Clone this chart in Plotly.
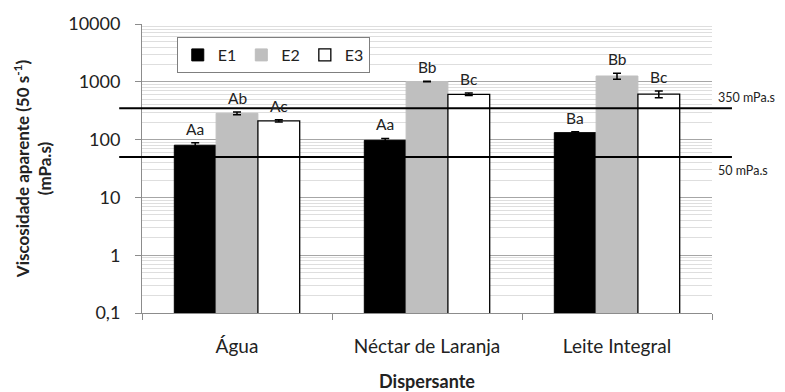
import math
import plotly.graph_objects as go

categories = ["Água", "Néctar de Laranja", "Leite Integral"]
series_names = ["E1", "E2", "E3"]
e1_values = [80, 97, 132]
e2_values = [285, 1010, 1260]
e3_values = [211, 608, 610]
e1_errors = [8, 8, 5]
e2_errors = [15, 10, 150]
e3_errors = [10, 30, 80]
e1_labels = ["Aa", "Aa", "Ba"]
e2_labels = ["Ab", "Bb", "Bb"]
e3_labels = ["Ac", "Bc", "Bc"]
ref_values = [350, 50]
ref_labels = ["350 mPa.s", "50 mPa.s"]
ytick_vals = [0.1, 1, 10, 100, 1000, 10000]
ytick_text = ["0,1", "1", "10", "100", "1000", "10000"]

FONT = "Lato, 'Open Sans', sans-serif"
styles = [
    dict(color="#000000", line=dict(color="#000000", width=1)),
    dict(color="#bfbfbf", line=dict(color="#bfbfbf", width=1)),
    dict(color="#ffffff", line=dict(color="#000000", width=1.3)),
]
values = [e1_values, e2_values, e3_values]
errors = [e1_errors, e2_errors, e3_errors]
labels = [e1_labels, e2_labels, e3_labels]

fig = go.Figure()
for name, v, e, st in zip(series_names, values, errors, styles):
    fig.add_trace(go.Bar(
        x=categories, y=v, name=name, marker=st,
        error_y=dict(type="data", array=e, visible=True, color="#000000",
                     thickness=1.5, width=4),
    ))

# letters above bars
shifts = [-42, 0, 42]
for v, e, lab, sh in zip(values, errors, labels, shifts):
    for c, vv, ee, ll in zip(categories, v, e, lab):
        fig.add_annotation(x=c, y=math.log10(vv + ee), text=ll, showarrow=False,
                           xshift=sh, yanchor="bottom", yshift=3,
                           font=dict(size=15.5, color="#222", family=FONT))

# reference lines
for rv, rl in zip(ref_values, ref_labels):
    fig.add_shape(type="line", xref="paper", yref="y", x0=-0.04, x1=1.035,
                  y0=rv, y1=rv, line=dict(color="#000000", width=2))
    fig.add_annotation(xref="paper", yref="y", x=1.007, y=math.log10(rv),
                       text=rl, showarrow=False, xanchor="left",
                       yshift=11 if rv == 350 else -13,
                       font=dict(size=12.5, color="#222", family=FONT))

minor_vals = [k * 10 ** p for p in range(-1, 4) for k in range(2, 10)]

# page body has an 8px margin: compensate so the plot area lands where the reference has it
fig.update_layout(
    width=777, height=384,
    margin=dict(l=134, r=73, t=16, b=79),
    paper_bgcolor="white", plot_bgcolor="white",
    barmode="group", bargap=0.34, bargroupgap=0,
    font=dict(family=FONT, size=15, color="#222"),
    showlegend=True,
    legend=dict(orientation="h", x=0.061, y=0.955, xanchor="left", yanchor="top",
                bordercolor="#7f7f7f", borderwidth=1, bgcolor="white",
                font=dict(size=16, family=FONT), itemwidth=30, traceorder="normal",
                tracegroupgap=0),
    xaxis=dict(
        automargin=False,
        showline=True, linecolor="#8c8c8c", linewidth=1,
        ticks="outside", tickson="boundaries", ticklen=6, tickcolor="#8c8c8c",
        ticklabelstandoff=16,
        tickfont=dict(size=19, family=FONT),
        title=dict(text="<b>Dispersante</b>", font=dict(size=18, family=FONT), standoff=31),
    ),
    yaxis=dict(
        automargin=False,
        type="log", range=[-1, 4],
        tickvals=ytick_vals, ticktext=ytick_text,
        showline=True, linecolor="#8c8c8c", linewidth=1,
        ticks="outside", ticklen=6, tickcolor="#8c8c8c",
        ticklabelstandoff=11,
        showgrid=True, gridcolor="#a6a6a6", gridwidth=1,
        minor=dict(tickvals=minor_vals, showgrid=True, gridcolor="#dedede", gridwidth=1, ticks=""),
        tickfont=dict(size=18, family=FONT),
        zeroline=False,
        title=dict(text="<b>Viscosidade aparente (50 s<sup>-1</sup>)<br>(mPa.s)</b>",
                   font=dict(size=17, family=FONT), standoff=12),
    ),
)

fig.write_html("out.html")
